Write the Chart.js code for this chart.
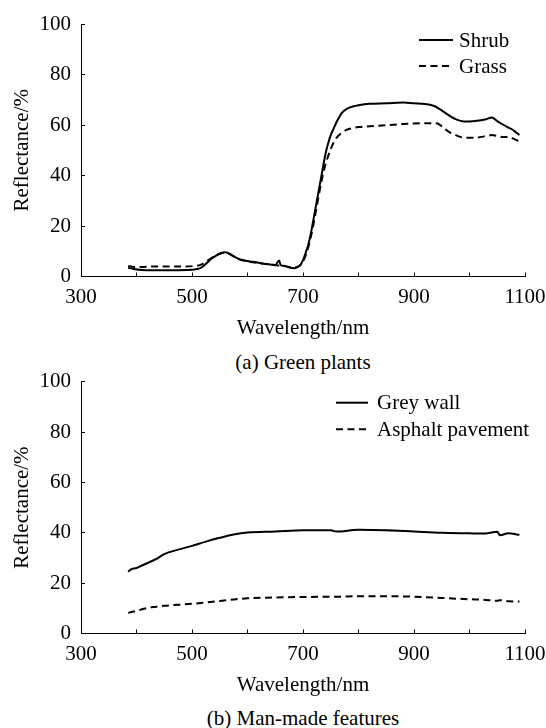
<!DOCTYPE html>
<html>
<head>
<meta charset="utf-8">
<script src="https://cdn.jsdelivr.net/npm/chart.js@4.4.1/dist/chart.umd.min.js"></script>
<style>
  body { margin: 0; background: #fff; }
  #wrap { position: relative; width: 546px; height: 728px; overflow: hidden; }
  canvas { position: absolute; left: 0; }
  .cap { position: absolute; left: 81px; width: 444px; text-align: center;
         font: 21px "Liberation Serif", "Times New Roman", serif; line-height: 24px; color: #000; }
</style>
</head>
<body>
<div id="wrap">
  <canvas id="plants" width="546" height="345" style="top:0"></canvas>
  <div class="cap" style="top:350px">(a) Green plants</div>
  <canvas id="built" width="546" height="357" style="top:345px"></canvas>
  <div class="cap" style="top:706px">(b) Man-made features</div>
</div>
<script>
// (a) green plants, wavelength in nm, reflectance in %
const plantWl = [385, 395, 410, 430, 460, 490, 505, 515, 525, 535, 545, 555, 560, 570, 580, 595,
  610, 630, 650, 657, 660, 665, 675, 685, 695, 700, 705, 710, 715, 720, 725, 730, 735, 740, 745,
  750, 755, 760, 765, 770, 780, 790, 800, 820, 850, 880, 900, 920, 935, 945, 955, 965, 975, 990,
  1010, 1030, 1040, 1050, 1060, 1070, 1080, 1090];
const shrub = [3.5, 3.0, 2.6, 2.5, 2.5, 2.6, 2.8, 3.3, 5.0, 7.0, 8.5, 9.5, 9.6, 8.8, 7.4, 6.3,
  5.8, 5.1, 4.6, 6.3, 4.4, 4.3, 3.6, 3.3, 4.5, 6.5, 9.5, 13, 18, 24, 30, 36, 42, 48, 52.5,
  56, 58.5, 61, 63, 64.8, 66.5, 67.3, 67.8, 68.4, 68.6, 68.9, 68.6, 68.3, 67.6, 66.5, 65, 63.5, 62.3, 61.4,
  61.6, 62.3, 63, 61.5, 60.2, 59, 57.8, 56];
const grass = [4.2, 3.8, 3.8, 4.0, 4.0, 4.0, 4.2, 4.6, 5.8, 7.3, 8.6, 9.3, 9.4, 8.6, 7.2, 6.2,
  5.6, 5.0, 4.5, 4.3, 4.3, 4.2, 3.8, 3.7, 4.5, 6.0, 8.5, 12, 16.5, 22, 28, 34, 39.5, 44, 47.5,
  50.5, 53, 54.8, 56, 57, 58.2, 58.8, 59.2, 59.5, 59.9, 60.4, 60.6, 60.7, 60.7, 60.3, 58.5, 57, 56, 55,
  55, 55.6, 56, 55.7, 55.2, 55.2, 54.5, 53.4];

// (b) man-made features
const builtWl = [385, 390, 400, 410, 420, 435, 450, 475, 500, 525, 550, 575, 600, 650, 700, 750,
  760, 800, 850, 900, 950, 1000, 1025, 1050, 1055, 1070, 1090];
const greyWall = [24.5, 25.5, 26, 27, 28, 29.5, 31.5, 33.3, 34.8, 36.5, 38, 39.3, 40.1, 40.5, 41, 41,
  40.5, 41.2, 41, 40.5, 40, 39.8, 39.7, 40.4, 39, 39.8, 39.2];
const asphalt = [8.2, 8.5, 9, 9.6, 10.2, 10.6, 11, 11.4, 11.8, 12.3, 12.9, 13.5, 14, 14.3, 14.5, 14.6,
  14.6, 14.8, 14.8, 14.6, 14.1, 13.6, 13.4, 13.0, 13.2, 12.8, 12.7];

const xTicks = [300, 500, 700, 900, 1100];
const yTicks = [0, 20, 40, 60, 80, 100];

const FONT = '"Liberation Serif", "Times New Roman", serif';
Chart.defaults.font.family = FONT;
Chart.defaults.font.size = 21;
Chart.defaults.color = '#000';

function pts(xs, ys) {
  return xs.map((x, i) => ({ x: x, y: ys[i] }));
}

// legend drawn as short line samples next to the labels
const lineLegend = {
  id: 'lineLegend',
  afterDraw(chart, args, opts) {
    const { ctx, chartArea } = chart;
    ctx.save();
    ctx.font = '21px ' + FONT;
    ctx.textBaseline = 'middle';
    ctx.fillStyle = '#000';
    ctx.strokeStyle = '#000';
    ctx.lineWidth = 2;
    chart.data.datasets.forEach((ds, i) => {
      const y = chartArea.top + opts.top + i * opts.gap;
      const x0 = chartArea.left + opts.left;
      ctx.setLineDash(ds.borderDash || []);
      ctx.beginPath();
      ctx.moveTo(x0, y);
      ctx.lineTo(x0 + opts.len, y);
      ctx.stroke();
      ctx.setLineDash([]);
      ctx.fillText(ds.label, x0 + opts.len + opts.space, y + 1);
    });
    ctx.restore();
  }
};

function makeChart(id, xs, series, names, padTop, legend) {
  const dashes = [[], [7, 4.5]];
  return new Chart(document.getElementById(id), {
    type: 'line',
    data: {
      datasets: series.map((s, i) => ({
        label: names[i],
        data: pts(xs, s),
        borderColor: '#000',
        borderWidth: 2,
        borderDash: dashes[i],
        pointRadius: 0,
        cubicInterpolationMode: 'monotone',
        fill: false
      }))
    },
    plugins: [lineLegend],
    options: {
      responsive: false,
      animation: false,
      devicePixelRatio: 1,
      layout: { padding: { top: padTop, left: 0, right: 21, bottom: 0 } },
      plugins: {
        legend: { display: false },
        tooltip: { enabled: false },
        lineLegend: legend
      },
      scales: {
        x: {
          type: 'linear', min: 300, max: 1100,
          afterBuildTicks: s => { s.ticks = [300, 400, 500, 600, 700, 800, 900, 1000, 1100].map(v => ({ value: v })); },
          ticks: {
            autoSkip: false, maxRotation: 0, padding: 12,
            callback: v => xTicks.includes(v) ? String(v) : ''
          },
          grid: { drawOnChartArea: false, drawTicks: true, tickLength: -4, color: '#000', lineWidth: 1 },
          border: { color: '#000', width: 1 },
          title: { display: true, text: 'Wavelength/nm', padding: { top: 0, bottom: 4 } },
          afterFit: s => { s.height = 68.5; s.paddingLeft = 0; s.paddingRight = 0; }
        },
        y: {
          min: 0, max: 100,
          afterBuildTicks: s => { s.ticks = yTicks.map(v => ({ value: v })); },
          ticks: { padding: 14 },
          grid: { drawOnChartArea: false, drawTicks: true, tickLength: -4, color: '#000', lineWidth: 1 },
          border: { color: '#000', width: 1 },
          title: { display: true, text: 'Reflectance/%', padding: { top: 10, bottom: 0 } },
          afterFit: s => { s.width = 81; s.paddingTop = 0; s.paddingBottom = 0; }
        }
      }
    }
  });
}

makeChart('plants', plantWl, [shrub, grass], ['Shrub', 'Grass'], 24,
  { left: 338, top: 16, gap: 26, len: 34, space: 6 });
makeChart('built', builtWl, [greyWall, asphalt], ['Grey wall', 'Asphalt pavement'], 36.7,
  { left: 255, top: 21, gap: 26.6, len: 32, space: 9 });
</script>
</body>
</html>
